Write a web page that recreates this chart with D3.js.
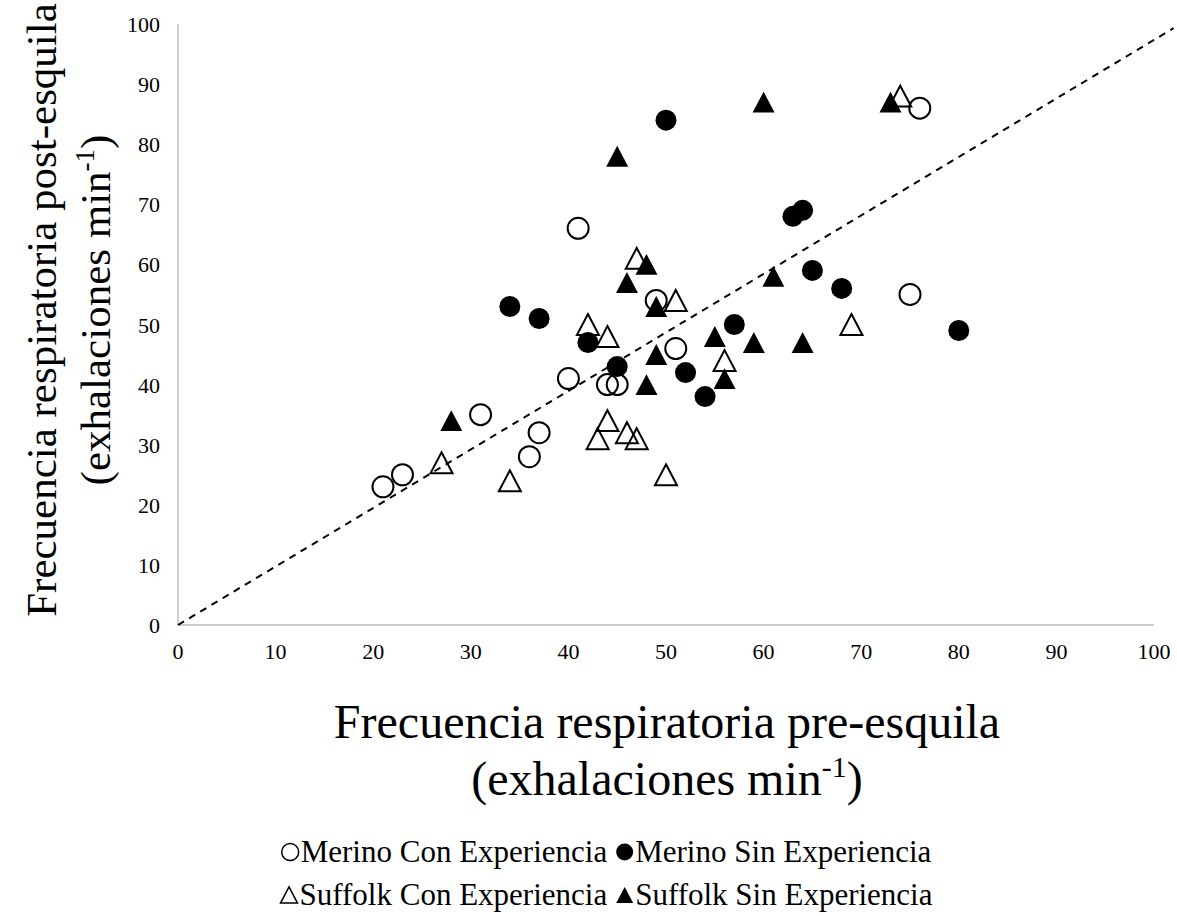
<!DOCTYPE html>
<html>
<head>
<meta charset="utf-8">
<script src="https://cdn.jsdelivr.net/npm/d3@7"></script>
<style>
  body { margin: 0; background: #fff; }
  svg { font-family: "Liberation Serif", "Times New Roman", serif; }
</style>
</head>
<body>
<svg id="chart" width="1177" height="916"></svg>
<script>
// [pre, post] respiration rates per group
const merinoCon = [[21,23],[23,25],[31,35],[36,28],[37,32],[40,41],[41,66],[44,40],[45,40],[49,54],[51,46],[75,55],[76,86]];
const merinoSin = [[34,53],[37,51],[42,47],[45,43],[50,84],[52,42],[54,38],[57,50],[63,68],[64,69],[65,59],[68,56],[80,49]];
const suffolkCon = [[27,27],[34,24],[42,50],[43,31],[44,34],[44,48],[46,32],[47,31],[47,61],[50,25],[51,54],[56,44],[69,50],[74,88]];
const suffolkSin = [[28,34],[45,78],[46,57],[48,60],[48,40],[49,53],[49,45],[55,48],[56,41],[59,47],[60,87],[61,58],[64,47],[73,87]];
const refLine = [[0,0],[102,99.3]];
const ticks = [0,10,20,30,40,50,60,70,80,90,100];

const series = [
  {name: 'Merino Con Experiencia', data: merinoCon, shape: 'circle', filled: false},
  {name: 'Merino Sin Experiencia', data: merinoSin, shape: 'circle', filled: true},
  {name: 'Suffolk Con Experiencia', data: suffolkCon, shape: 'triangle', filled: false},
  {name: 'Suffolk Sin Experiencia', data: suffolkSin, shape: 'triangle', filled: true}
];

const svg = d3.select('#chart');
const x = d3.scaleLinear().domain([0, 100]).range([178, 1154]);
const y = d3.scaleLinear().domain([0, 100]).range([625, 24]);

// axis lines
svg.append('line')
  .attr('x1', x(0)).attr('x2', x(0))
  .attr('y1', y(0)).attr('y2', y(100))
  .attr('stroke', '#bfbfbf').attr('stroke-width', 1.5);
svg.append('line')
  .attr('x1', x(0)).attr('x2', x(100))
  .attr('y1', y(0)).attr('y2', y(0))
  .attr('stroke', '#bfbfbf').attr('stroke-width', 1.5);

// tick labels
svg.append('g').selectAll('text')
  .data(ticks)
  .enter().append('text')
    .attr('x', 160)
    .attr('y', d => y(d) + 8)
    .attr('text-anchor', 'end')
    .attr('font-size', 22)
    .text(d => d);

svg.append('g').selectAll('text')
  .data(ticks)
  .enter().append('text')
    .attr('x', d => x(d))
    .attr('y', 659)
    .attr('text-anchor', 'middle')
    .attr('font-size', 22)
    .text(d => d);

function markerPath(shape, s) {
  if (shape === 'circle') {
    const r = s / 2;
    return `M${-r},0A${r},${r} 0 1,0 ${r},0A${r},${r} 0 1,0 ${-r},0Z`;
  }
  const h = s * 0.95;
  return `M0,${-h / 2}L${s / 2},${h / 2}L${-s / 2},${h / 2}Z`;
}

// points
for (const s of series) {
  svg.append('g').selectAll('path')
    .data(s.data)
    .enter().append('path')
      .attr('transform', d => `translate(${x(d[0])},${y(d[1])})`)
      .attr('d', markerPath(s.shape, s.shape === 'circle' ? 21 : 22))
      .attr('fill', s.filled ? '#000' : 'none')
      .attr('stroke', '#000')
      .attr('stroke-width', s.filled ? 0 : 2);
}

// 1:1 reference line
svg.append('path')
  .datum(refLine)
  .attr('d', d3.line().x(d => x(d[0])).y(d => y(d[1])))
  .attr('fill', 'none')
  .attr('stroke', '#000')
  .attr('stroke-width', 2)
  .attr('stroke-dasharray', '7,6');

// axis titles
const yTitle = svg.append('text')
  .attr('transform', 'translate(56,310) rotate(-90)')
  .attr('text-anchor', 'middle')
  .attr('font-size', 43);
yTitle.append('tspan').attr('x', 0).attr('y', 0).text('Frecuencia respiratoria post-esquila');
const y2 = yTitle.append('tspan').attr('x', 0).attr('y', 54);
y2.append('tspan').text('(exhalaciones min');
y2.append('tspan').attr('font-size', 27).attr('dy', -16).text('-1');
y2.append('tspan').attr('dy', 16).text(')');

const xTitle = svg.append('text')
  .attr('transform', 'translate(667,738)')
  .attr('text-anchor', 'middle')
  .attr('font-size', 48);
xTitle.append('tspan').attr('x', 0).attr('y', 0).text('Frecuencia respiratoria pre-esquila');
const x2 = xTitle.append('tspan').attr('x', 0).attr('y', 57);
x2.append('tspan').text('(exhalaciones min');
x2.append('tspan').attr('font-size', 30).attr('dy', -18).text('-1');
x2.append('tspan').attr('dy', 18).text(')');

// legend: two rows, centered
const rows = [[series[0], series[1]], [series[2], series[3]]];
const rowY = [862, 905];
const legendCenter = 610;
rows.forEach((row, i) => {
  const g = svg.append('g');
  let cx = 0;
  row.forEach((s, j) => {
    const ms = 17;
    g.append('path')
      .attr('transform', `translate(${cx + ms / 2 + 1},${rowY[i] - 10})`)
      .attr('d', markerPath(s.shape, ms))
      .attr('fill', s.filled ? '#000' : 'none')
      .attr('stroke', '#000')
      .attr('stroke-width', s.filled ? 0 : 1.5);
    cx += ms + 3;
    const t = g.append('text')
      .attr('x', cx)
      .attr('y', rowY[i])
      .attr('font-size', 31)
      .text(s.name);
    cx += t.node().getComputedTextLength() + 8;
  });
  g.attr('transform', `translate(${legendCenter - cx / 2},0)`);
});
</script>
</body>
</html>
